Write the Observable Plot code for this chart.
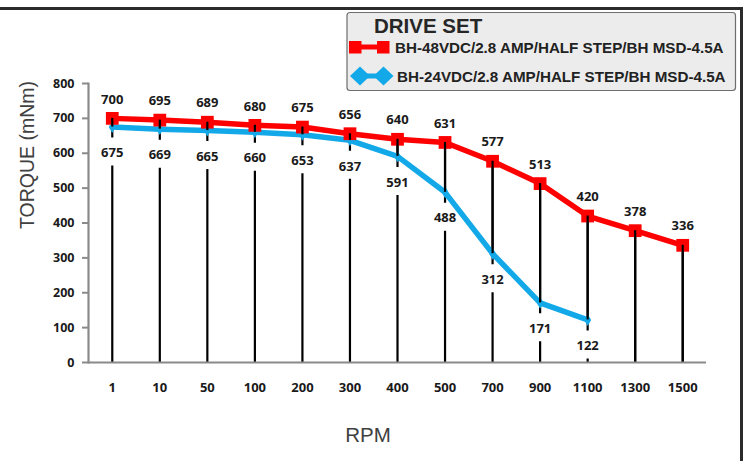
<!DOCTYPE html>
<html>
<head>
<meta charset="utf-8">
<script src="https://cdn.jsdelivr.net/npm/d3@7"></script>
<script src="https://cdn.jsdelivr.net/npm/@observablehq/plot@0.6"></script>
<style>
  body { margin: 0; background: #fff; }
  #wrap { position: relative; width: 744px; height: 461px; overflow: hidden; background: #fff; }
  #wrap > svg.plot { position: absolute; left: 0; top: 0; }
  #topline { position: absolute; left: 0; top: 7px; width: 743px; height: 3px; background: #2b2b2b; }
  #rightline { position: absolute; left: 740px; top: 7px; width: 3px; height: 454px; background: #2b2b2b; }
  #legend { position: absolute; left: 0; top: 0; }
</style>
</head>
<body>
<div id="wrap">
  <div id="topline"></div>
  <div id="rightline"></div>
</div>
<script>
// ---- data ----
const rpm = ["1", "10", "50", "100", "200", "300", "400", "500", "700", "900", "1100", "1300", "1500"];
const torque48 = [700, 695, 689, 680, 675, 656, 640, 631, 577, 513, 420, 378, 336];
const torque24 = [675, 669, 665, 660, 653, 637, 591, 488, 312, 171, 122, null, null];
const yTicks = [0, 100, 200, 300, 400, 500, 600, 700, 800];
const series48 = "BH-48VDC/2.8 AMP/HALF STEP/BH MSD-4.5A";
const series24 = "BH-24VDC/2.8 AMP/HALF STEP/BH MSD-4.5A";
const legendTitle = "DRIVE SET";

const RED = "#ff0000";
const BLUE = "#13a9e8";

const data = rpm.map((r, i) => ({ rpm: r, v48: torque48[i], v24: torque24[i] }));
const d24 = data.filter(d => d.v24 != null);

const labelBox = { draw(ctx) { ctx.rect(-16, -14, 32, 28); } };
const numFont = "'Open Sans', 'DejaVu Sans', sans-serif";

const chart = Plot.plot({
  width: 744,
  height: 461,
  marginLeft: 88,
  marginRight: 38,
  marginTop: 83,
  marginBottom: 99,
  style: { background: "transparent", fontFamily: numFont, overflow: "visible" },
  x: { type: "point", domain: rpm, padding: 0.5, round: false, label: null },
  y: { domain: [0, 800], label: null },
  marks: [
    Plot.ruleX(data, { x: "rpm", y1: 0, y2: "v48", stroke: "#000", strokeWidth: 2.2 }),
    Plot.dot(d24, { x: "rpm", y: "v24", dy: 24.5, symbol: labelBox, r: 10, fill: "#fff", stroke: "none" }),
    Plot.line(d24, { x: "rpm", y: "v24", stroke: BLUE, strokeWidth: 5.5 }),
    Plot.dot(d24, { x: "rpm", y: "v24", symbol: "diamond", r: 3.6, fill: BLUE }),
    Plot.line(data, { x: "rpm", y: "v48", stroke: RED, strokeWidth: 5.5 }),
    Plot.dot(data, { x: "rpm", y: "v48", symbol: "square", r: 7.2, fill: RED }),
    Plot.ruleX(d24, { x: "rpm", y1: "v24", y2: "v48", stroke: "#000", strokeWidth: 2.2 }),
    Plot.ruleX(data.filter(d => d.v24 == null), { x: "rpm", y1: 0, y2: "v48", stroke: "#000", strokeWidth: 2.2 }),
    Plot.ruleY([0], { stroke: "#8a8a8a", strokeWidth: 2.2 }),
    Plot.frame({ anchor: "left", stroke: "#8a8a8a", strokeWidth: 2.2 }),
    Plot.axisY({
      ticks: yTicks, tickSize: 6, tickPadding: 8, stroke: "#8a8a8a", strokeWidth: 2,
      fill: "#1a1a1a", fontSize: 12.5, fontWeight: "bold", label: null
    }),
    Plot.axisX({
      tickSize: 0, tickPadding: 20, fill: "#1a1a1a", fontSize: 13, fontWeight: "bold", label: null
    }),
    Plot.text(data, {
      x: "rpm", y: "v48", text: d => String(d.v48), dy: -19,
      fontSize: 13, fontWeight: "bold", fill: "#1a1a1a"
    }),
    Plot.text(d24, {
      x: "rpm", y: "v24", text: d => String(d.v24), dy: 26,
      fontSize: 13, fontWeight: "bold", fill: "#1a1a1a"
    }),
    Plot.text(["TORQUE (mNm)"], {
      frameAnchor: "left", rotate: -90, dx: -61, dy: 6,
      fontFamily: "'Liberation Sans', Arial, sans-serif", fontSize: 19.5, fill: "#404040"
    }),
    Plot.text(["RPM"], {
      frameAnchor: "bottom", dx: -29.5, dy: 79,
      fontFamily: "'Liberation Sans', Arial, sans-serif", fontSize: 20.5, fill: "#404040"
    })
  ]
});
chart.classList.add("plot");
const wrap = document.getElementById("wrap");
wrap.insertBefore(chart, wrap.firstChild);

// ---- legend ----
const lg = d3.select("#wrap").append("svg")
  .attr("id", "legend").attr("width", 744).attr("height", 100)
  .style("font-family", "'Liberation Sans', Arial, sans-serif");
lg.append("rect").attr("x", 347).attr("y", 12.5).attr("width", 388.5).attr("height", 78)
  .attr("rx", 3).attr("fill", "#ececec").attr("stroke", "#6e6e6e").attr("stroke-width", 1.2);
lg.append("text").attr("x", 374).attr("y", 32.5).attr("font-size", 20.5).attr("font-weight", "bold")
  .attr("fill", "#262626").text(legendTitle);
// red item
lg.append("line").attr("x1", 355).attr("x2", 383).attr("y1", 47).attr("y2", 47)
  .attr("stroke", RED).attr("stroke-width", 5);
[349, 377].forEach(x => lg.append("rect").attr("x", x).attr("y", 41).attr("width", 12.5).attr("height", 12.5).attr("fill", RED));
lg.append("text").attr("x", 395).attr("y", 52.5).attr("font-size", 15.2).attr("font-weight", "bold")
  .attr("fill", "#222").text(series48);
// blue item
lg.append("line").attr("x1", 360).attr("x2", 384).attr("y1", 76).attr("y2", 76)
  .attr("stroke", BLUE).attr("stroke-width", 5);
[360, 383.5].forEach(cx => lg.append("path")
  .attr("d", `M${cx - 10},76 L${cx},66.5 L${cx + 10},76 L${cx},85.5 Z`).attr("fill", BLUE));
lg.append("text").attr("x", 397).attr("y", 82).attr("font-size", 15.2).attr("font-weight", "bold")
  .attr("fill", "#222").text(series24);
</script>
</body>
</html>
